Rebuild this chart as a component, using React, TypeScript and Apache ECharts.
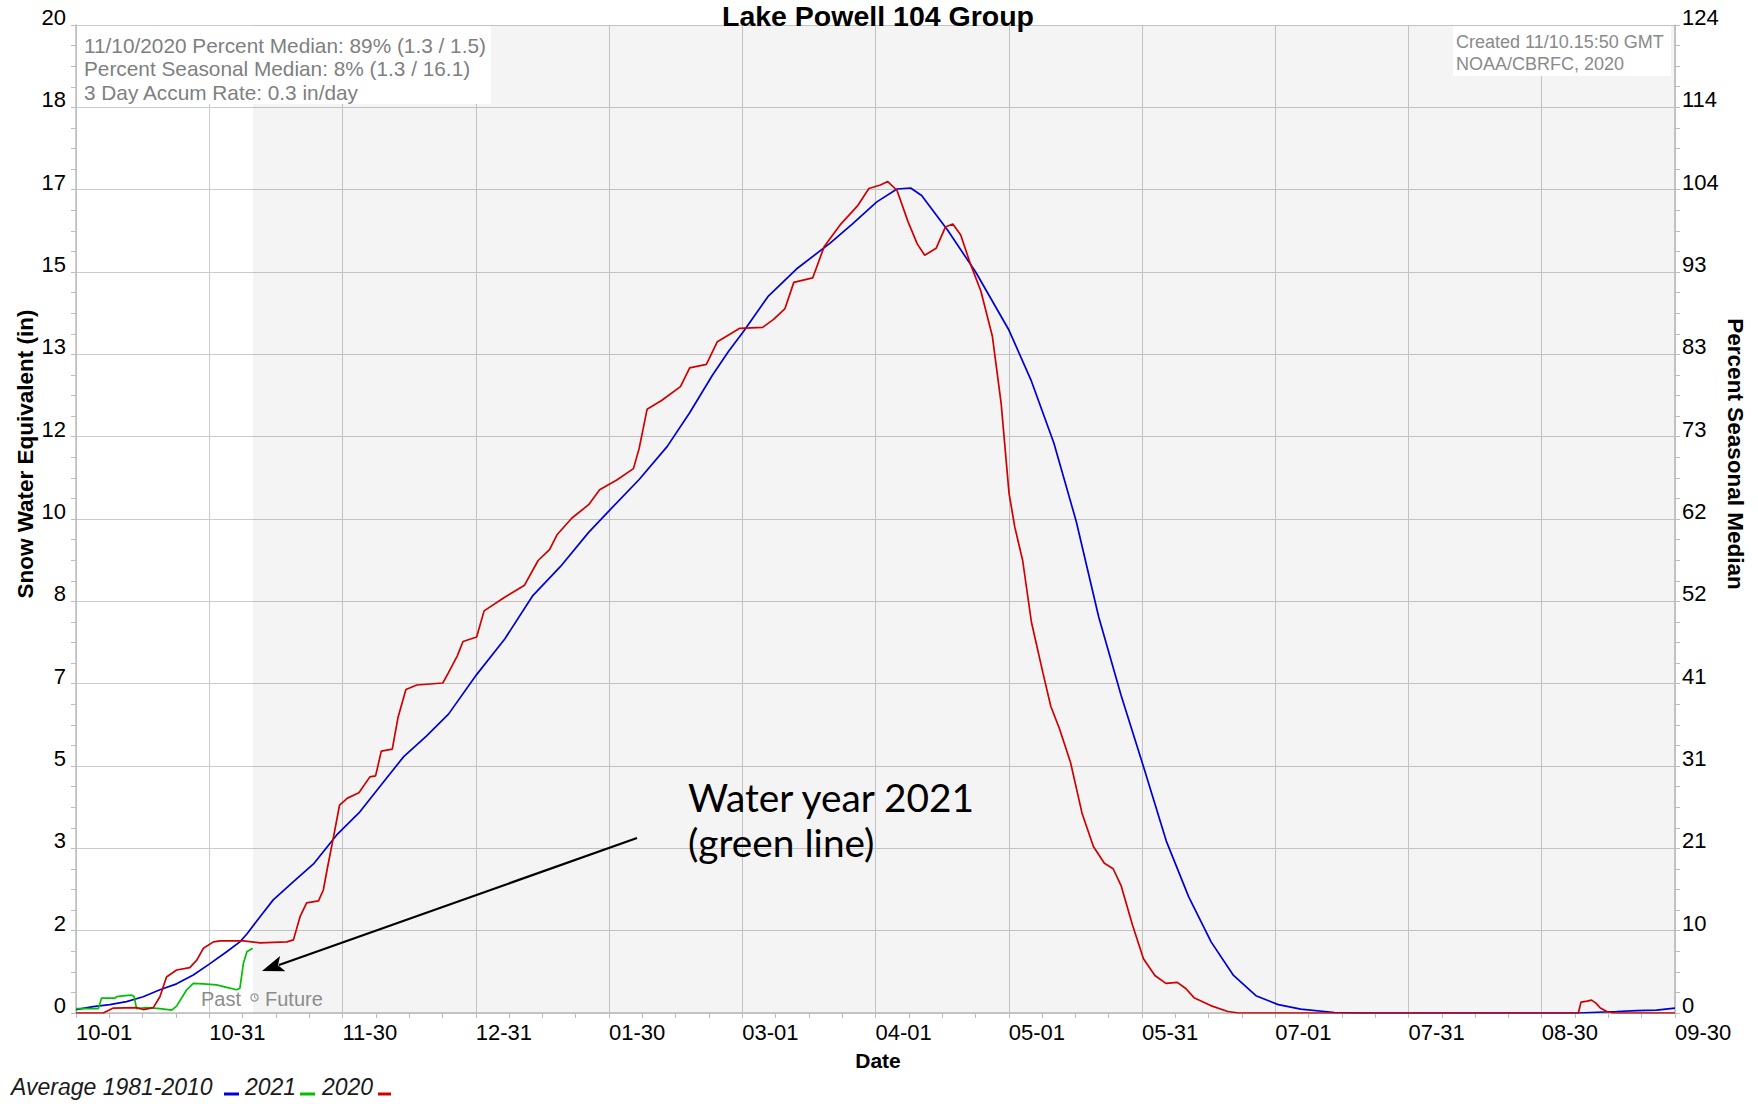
import React, { useEffect, useRef } from 'react';
import * as echarts from 'echarts';

// ---- data (day of water year from 10-01, SWE inches) ----
const averageSwe: [number, number][] = [
  [0, 0.07], [3.9, 0.13], [7.7, 0.17], [11.5, 0.23], [15.3, 0.33], [19.1, 0.47], [22.9, 0.59],
  [26.7, 0.77], [30.5, 1.0], [34.3, 1.24], [37.3, 1.44], [38.9, 1.6], [41.9, 1.95], [44.9, 2.29],
  [49.5, 2.66], [54.2, 3.03], [59.3, 3.6], [64.4, 4.05], [69.5, 4.62], [74.6, 5.19], [79.7, 5.6],
  [84.8, 6.05], [91.2, 6.85], [97.6, 7.57], [104, 8.45], [110.3, 9.04], [116.7, 9.73], [121.5, 10.18],
  [128.2, 10.8], [134.6, 11.47], [139.7, 12.15], [144.8, 12.9], [148.6, 13.4], [151.9, 13.79],
  [157.5, 14.5], [164, 15.06], [171.6, 15.58], [176.7, 15.97], [182.3, 16.42], [186.9, 16.68],
  [190, 16.7], [192.5, 16.55], [198.4, 15.85], [204.8, 15.0], [212.4, 13.82], [217.5, 12.79],
  [222.6, 11.54], [227.7, 9.95], [232.8, 8.02], [237.9, 6.43], [243.1, 4.96], [248.2, 3.48],
  [253.3, 2.35], [258.4, 1.44], [263.5, 0.76], [268.6, 0.35], [273.7, 0.17], [278.8, 0.08],
  [286.5, 0.01], [292, 0], [342, 0], [350.7, 0.03], [355.3, 0.05], [359.8, 0.06], [364, 0.1],
];

const wy2021Swe: [number, number][] = [
  [0, 0.09], [5.1, 0.09], [5.8, 0.3], [8.9, 0.3], [9.3, 0.33], [11.2, 0.35], [12.7, 0.36],
  [13.2, 0.34], [13.8, 0.09], [16.1, 0.11], [19.1, 0.09], [21.8, 0.06], [22.9, 0.14], [25.2, 0.47],
  [26.7, 0.6], [29, 0.59], [32, 0.57], [34.3, 0.52], [36.6, 0.47], [37.3, 0.5], [38.1, 1.0],
  [38.9, 1.24], [40.2, 1.31],
];

const wy2020Swe: [number, number][] = [
  [0, 0], [6.2, 0], [8.5, 0.1], [13.8, 0.11], [15.3, 0.07], [17.6, 0.11], [19.1, 0.33], [20.6, 0.73],
  [22.9, 0.87], [25.9, 0.92], [27.5, 1.07], [29, 1.31], [31.3, 1.44], [32.8, 1.46], [38.1, 1.46],
  [41.9, 1.42], [48, 1.44], [49.5, 1.48], [51, 1.95], [52.5, 2.23], [55.2, 2.27], [56.3, 2.49],
  [57.2, 2.92], [58.7, 3.6], [60.0, 4.21], [61.8, 4.35], [64.4, 4.46], [66.9, 4.78], [68.2, 4.8],
  [69.5, 5.3], [72.0, 5.34], [73.3, 5.98], [75.1, 6.55], [77.6, 6.64], [83.5, 6.68], [84.8, 6.89],
  [86.8, 7.23], [88.1, 7.52], [91.2, 7.61], [92.9, 8.14], [97.5, 8.41], [102.1, 8.66], [105.2, 9.16],
  [107.8, 9.38], [109.5, 9.68], [112.9, 10.02], [116.7, 10.29], [119.2, 10.59], [123.1, 10.79],
  [126.9, 11.02], [128.2, 11.43], [130.0, 12.22], [133.3, 12.4], [137.6, 12.68], [139.7, 13.06],
  [143.5, 13.13], [146.0, 13.59], [151.1, 13.86], [156.3, 13.88], [158.8, 14.04], [161.4, 14.26],
  [163.4, 14.79], [167.7, 14.88], [170.3, 15.51], [174.1, 15.97], [178.0, 16.35], [180.5, 16.69],
  [183.1, 16.76], [184.8, 16.83], [186.9, 16.65], [189.4, 16.02], [191.5, 15.57], [193.2, 15.34],
  [195.8, 15.48], [197.9, 15.91], [199.6, 15.97], [201.4, 15.75], [203.5, 15.19], [206.0, 14.61],
  [208.6, 13.7], [210.6, 12.34], [212.4, 10.52], [213.7, 9.84], [215.5, 9.16], [217.5, 7.91],
  [220.1, 6.89], [221.9, 6.21], [223.9, 5.75], [226.4, 5.07], [229.0, 4.05], [231.6, 3.37],
  [234.1, 3.03], [236.1, 2.92], [237.9, 2.58], [240.5, 1.78], [243.0, 1.1], [245.6, 0.76],
  [248.1, 0.6], [250.7, 0.62], [252.7, 0.49], [254.5, 0.31], [258.3, 0.15], [262.2, 0.03],
  [264.7, 0], [342, 0], [342.6, 0.22], [344, 0.24], [345, 0.26], [346, 0.2], [347, 0.1],
  [348.5, 0.03], [350, 0], [364, 0],
];

const seriesNames = ['Average 1981-2010', '2021', '2020'];
const infoLines = [
  '11/10/2020 Percent Median: 89% (1.3 / 1.5)',
  'Percent Seasonal Median: 8% (1.3 / 16.1)',
  '3 Day Accum Rate: 0.3 in/day',
];
const creditLines = ['Created 11/10.15:50 GMT', 'NOAA/CBRFC, 2020'];

const dayMax = 364;
const sweMax = 20;
const pctMax = 124.4;
const tickSplits = 12;
const todayDay = 40.3;
const waterYearStart = Date.UTC(2020, 9, 1);

const BLUE = '#0000d2';
const GREEN = '#00c000';
const RED = '#d00000';
const FONT = '"Liberation Sans", Arial, Helvetica, sans-serif';

function dayToLabel(d: number): string {
  const dt = new Date(waterYearStart + Math.floor(d + 1e-6) * 86400000);
  const mm = String(dt.getUTCMonth() + 1).padStart(2, '0');
  const dd = String(dt.getUTCDate()).padStart(2, '0');
  return mm + '-' + dd;
}

function arrowGraphics(x1: number, y1: number, x2: number, y2: number) {
  const dx = x2 - x1;
  const dy = y2 - y1;
  const len = Math.sqrt(dx * dx + dy * dy);
  const ux = dx / len;
  const uy = dy / len;
  const headLen = 22;
  const half = 8;
  const bx = x2 - ux * headLen;
  const by = y2 - uy * headLen;
  const nx = -uy;
  const ny = ux;
  return [
    {
      type: 'line', z: 100, silent: true,
      shape: { x1, y1, x2: bx + ux * 4, y2: by + uy * 4 },
      style: { stroke: '#000', lineWidth: 2.2 },
    },
    {
      type: 'polygon', z: 100, silent: true,
      shape: { points: [[x2, y2], [bx + nx * half, by + ny * half], [bx + ux * 5, by + uy * 5], [bx - nx * half, by - ny * half]] },
      style: { fill: '#000' },
    },
  ];
}

function buildOption() {
  const axisGray = '#bdbdbd';
  const legendItems = [
    { text: seriesNames[0], x: 11, dash: [224, 239], color: BLUE },
    { text: seriesNames[1], x: 245, dash: [300, 315], color: GREEN },
    { text: seriesNames[2], x: 322, dash: [378, 391], color: RED },
  ];
  const graphic: any[] = [
    // title
    {
      type: 'text', x: 878, y: 15.5, z: 100, silent: true,
      style: { text: 'Lake Powell 104 Group', font: 'bold 28.5px ' + FONT, fill: '#000', align: 'center', verticalAlign: 'middle' },
    },
    // info box
    { type: 'rect', z: 90, silent: true, shape: { x: 77, y: 26, width: 414, height: 78 }, style: { fill: '#ffffff' } },
    ...infoLines.map((t, i) => ({
      type: 'text', x: 84, y: 45 + i * 23.5, z: 100, silent: true,
      style: { text: t, font: '20.8px ' + FONT, fill: '#7f7f7f', align: 'left', verticalAlign: 'middle' },
    })),
    { type: 'rect', z: 90, silent: true, shape: { x: 1453, y: 26, width: 218, height: 50 }, style: { fill: '#ffffff' } },
    ...creditLines.map((t, i) => ({
      type: 'text', x: 1456, y: 41.5 + i * 22.5, z: 100, silent: true,
      style: { text: t, font: '18px ' + FONT, fill: '#8a8a8a', align: 'left', verticalAlign: 'middle' },
    })),
    // axis titles
    {
      type: 'text', x: 25.5, y: 454, rotation: Math.PI / 2, z: 100, silent: true,
      style: { text: 'Snow Water Equivalent (in)', font: 'bold 22.5px ' + FONT, fill: '#000', align: 'center', verticalAlign: 'middle' },
    },
    {
      type: 'text', x: 1735, y: 454, rotation: -Math.PI / 2, z: 100, silent: true,
      style: { text: 'Percent Seasonal Median', font: 'bold 22.5px ' + FONT, fill: '#000', align: 'center', verticalAlign: 'middle' },
    },
    {
      type: 'text', x: 878, y: 1060, z: 100, silent: true,
      style: { text: 'Date', font: 'bold 21px ' + FONT, fill: '#000', align: 'center', verticalAlign: 'middle' },
    },
    // past / future
    {
      type: 'text', x: 241, y: 999, z: 100, silent: true,
      style: { text: 'Past', font: '20px ' + FONT, fill: '#8c8c8c', align: 'right', verticalAlign: 'middle' },
    },
    {
      type: 'circle', z: 100, silent: true, shape: { cx: 254.5, cy: 997.5, r: 3.6 },
      style: { fill: 'none', stroke: '#9a9a9a', lineWidth: 1.2 },
    },
    {
      type: 'polyline', z: 100, silent: true, shape: { points: [[254.5, 995.3], [254.5, 997.5], [256.3, 998.6]] },
      style: { stroke: '#9a9a9a', lineWidth: 1, fill: 'none' },
    },
    {
      type: 'text', x: 265, y: 999, z: 100, silent: true,
      style: { text: 'Future', font: '20px ' + FONT, fill: '#8c8c8c', align: 'left', verticalAlign: 'middle' },
    },
    // annotation
    {
      type: 'text', x: 688, y: 797, z: 100, silent: true,
      style: { text: 'Water year 2021', font: '38.8px Lato, "DejaVu Sans", sans-serif', fill: '#000', align: 'left', verticalAlign: 'middle' },
    },
    {
      type: 'text', x: 688, y: 842, z: 100, silent: true,
      style: { text: '(green line)', font: '38.8px Lato, "DejaVu Sans", sans-serif', fill: '#000', align: 'left', verticalAlign: 'middle' },
    },
    ...arrowGraphics(637, 838, 262, 971),
  ];
  legendItems.forEach((it) => {
    graphic.push({
      type: 'text', x: it.x, y: 1087, z: 100, silent: true,
      style: { text: it.text, font: 'italic 23px ' + FONT, fill: '#1a1a1a', align: 'left', verticalAlign: 'middle' },
    });
    graphic.push({
      type: 'line', z: 100, silent: true,
      shape: { x1: it.dash[0], y1: 1094, x2: it.dash[1], y2: 1094 },
      style: { stroke: it.color, lineWidth: 3 },
    });
  });

  const yLabelBase = {
    show: true, color: '#000', fontSize: 22, fontFamily: FONT,
    verticalAlign: 'bottom', lineHeight: 15,
    formatter: (v: number) => String(Math.round(v)), showMinLabel: true, showMaxLabel: true, hideOverlap: false,
  };

  return {
    animation: false,
    backgroundColor: '#ffffff',
    grid: { left: 76, top: 25, right: 83, bottom: 91 },
    xAxis: {
      type: 'value', min: 0, max: dayMax, interval: dayMax / tickSplits,
      axisLine: { show: true, onZero: false, lineStyle: { color: axisGray, width: 1.5 } },
      axisTick: { show: true, length: 5, lineStyle: { color: axisGray } },
      minorTick: { show: true, splitNumber: 4, length: 5, lineStyle: { color: axisGray } },
      splitLine: { show: true, lineStyle: { color: '#cbcbcb', width: 1 } },
      minorSplitLine: { show: false },
      axisLabel: {
        show: true, align: 'left', margin: 8, color: '#000', fontSize: 22, fontFamily: FONT,
        formatter: dayToLabel, showMinLabel: true, showMaxLabel: true, hideOverlap: false,
      },
    },
    yAxis: [
      {
        type: 'value', position: 'left', min: 0, max: sweMax, interval: sweMax / tickSplits,
        axisLine: { show: true, onZero: false, lineStyle: { color: axisGray, width: 1.5 } },
        axisTick: { show: true, length: 5, lineStyle: { color: axisGray } },
        minorTick: { show: true, splitNumber: 4, length: 5, lineStyle: { color: axisGray } },
        splitLine: { show: true, lineStyle: { color: '#cbcbcb', width: 1 } },
        axisLabel: { ...yLabelBase, margin: 10 },
      },
      {
        type: 'value', position: 'right', min: 0, max: pctMax, interval: pctMax / tickSplits,
        axisLine: { show: true, onZero: false, lineStyle: { color: axisGray, width: 1.5 } },
        axisTick: { show: true, length: 5, lineStyle: { color: axisGray } },
        minorTick: { show: true, splitNumber: 4, length: 5, lineStyle: { color: axisGray } },
        splitLine: { show: false },
        axisLabel: { ...yLabelBase, margin: 7 },
      },
    ],
    series: [
      {
        type: 'line', name: seriesNames[0], data: averageSwe, yAxisIndex: 0,
        symbol: 'none', showSymbol: false, z: 3,
        lineStyle: { color: BLUE, width: 1.7 }, itemStyle: { color: BLUE },
        markArea: {
          silent: true, z: 1,
          itemStyle: { color: 'rgba(0,0,0,0.045)' },
          label: { show: false },
          data: [[{ xAxis: todayDay }, { xAxis: dayMax }]],
        },
      },
      {
        type: 'line', name: seriesNames[1], data: wy2021Swe, yAxisIndex: 0,
        symbol: 'none', showSymbol: false, z: 4,
        lineStyle: { color: GREEN, width: 1.7 }, itemStyle: { color: GREEN },
      },
      {
        type: 'line', name: seriesNames[2], data: wy2020Swe, yAxisIndex: 0,
        symbol: 'none', showSymbol: false, z: 5,
        lineStyle: { color: RED, width: 1.7 }, itemStyle: { color: RED },
      },
    ],
    graphic,
  };
}

export default function App() {
  const ref = useRef<HTMLDivElement>(null);
  useEffect(() => {
    if (!ref.current) return;
    const chart = echarts.init(ref.current, null, { renderer: 'svg' });
    chart.setOption(buildOption() as any);
    return () => {
      chart.dispose();
    };
  }, []);
  return (
    <div
      ref={ref}
      style={{ position: 'absolute', left: 0, top: 0, width: 1758, height: 1104, background: '#ffffff' }}
    />
  );
}
